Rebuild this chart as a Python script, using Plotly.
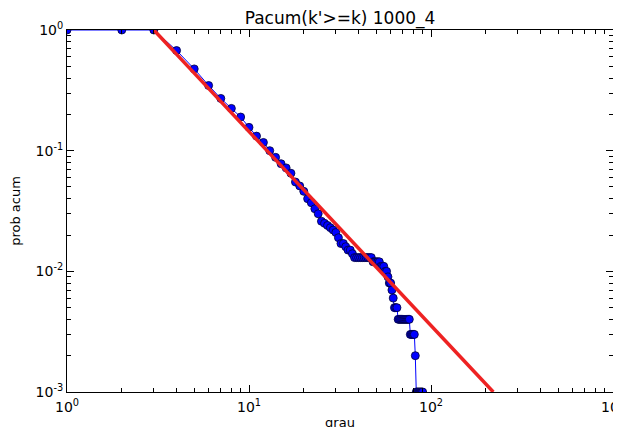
import plotly.graph_objects as go

degree = [1, 2, 3, 4, 5, 6, 7, 8, 9, 10,
          11, 12, 13, 14, 15, 16, 17, 18, 19, 20,
          21, 22, 23, 24, 25, 26, 27, 28, 29, 30,
          31, 32, 33, 34, 35, 36, 37, 38, 39, 40,
          41, 42, 43, 44, 45, 46, 47, 48, 49, 50,
          51, 52, 53, 54, 55, 56, 57, 58, 59, 60,
          61, 62, 63, 64, 65, 66, 67, 68, 69, 70,
          71, 72, 73, 74, 75, 76, 77, 78, 79, 80,
          81, 82, 83, 84, 85, 86, 87, 88, 89, 90]
prob_acum = [1.0, 1.0, 1.0, 0.676, 0.476, 0.347, 0.271, 0.224, 0.190, 0.156,
             0.132, 0.117, 0.100, 0.088, 0.078, 0.072, 0.065, 0.055, 0.051, 0.046,
             0.040, 0.037, 0.033, 0.030, 0.026, 0.025, 0.024, 0.023, 0.022, 0.021,
             0.019, 0.017, 0.017, 0.016, 0.015, 0.015, 0.014, 0.013, 0.013, 0.013,
             0.013, 0.013, 0.013, 0.013, 0.013, 0.013, 0.013, 0.012, 0.012, 0.012,
             0.012, 0.012, 0.011, 0.011, 0.011, 0.010, 0.010, 0.009, 0.008, 0.008,
             0.007, 0.006, 0.005, 0.005, 0.005, 0.004, 0.004, 0.004, 0.004, 0.004,
             0.004, 0.004, 0.004, 0.004, 0.004, 0.004, 0.003, 0.003, 0.003, 0.003,
             0.003, 0.002, 0.001, 0.001, 0.001, 0.001, 0.001, 0.001, 0.001, 0.001]

# Power-law fit line endpoints
fit_k = [3.0, 220.0]
fit_p = [1.0, 0.001]

x_ticks = [1, 10, 100, 1000]
x_labels = ["10<sup>0</sup>", "10<sup>1</sup>", "10<sup>2</sup>", "10<sup>3</sup>"]
y_ticks = [0.001, 0.01, 0.1, 1]
y_labels = ["10<sup>-3</sup>", "10<sup>-2</sup>", "10<sup>-1</sup>", "10<sup>0</sup>"]
x_minor = [m * 10 ** d for d in range(0, 3) for m in range(2, 10)]
y_minor = [m * 10.0 ** d for d in range(-3, 0) for m in range(2, 10)]

fig = go.Figure()
fig.add_trace(go.Scatter(
    x=degree, y=prob_acum, mode="lines+markers",
    line=dict(color="#0000ff", width=1),
    marker=dict(color="#0000ff", size=8, line=dict(color="#000033", width=0.8)),
    showlegend=False,
))
fig.add_trace(go.Scatter(
    x=fit_k, y=fit_p, mode="lines",
    line=dict(color="#ee2222", width=3.5),
    showlegend=False,
))

axis_common = dict(
    showgrid=False, zeroline=False,
    showline=True, linecolor="black", linewidth=1, mirror="allticks",
    ticks="inside", ticklen=7, tickwidth=1, tickcolor="black",
    tickfont=dict(family="DejaVu Sans", size=14, color="black"),
    automargin=False,
)

fig.update_xaxes(type="log", range=[0, 3], tickmode="array", tickvals=x_ticks, ticktext=x_labels,
                 ticklabelstandoff=2,
                 minor=dict(tickmode="array", tickvals=x_minor, ticks="inside", ticklen=4,
                            tickwidth=1, tickcolor="black", showgrid=False),
                 title=dict(text="grau", font=dict(family="DejaVu Sans", size=13, color="black"), standoff=4),
                 **axis_common)
fig.update_yaxes(type="log", range=[-3, 0], tickmode="array", tickvals=y_ticks, ticktext=y_labels,
                 minor=dict(tickmode="array", tickvals=y_minor, ticks="inside", ticklen=4,
                            tickwidth=1, tickcolor="black", showgrid=False),
                 title=dict(text="prob acum", font=dict(family="DejaVu Sans", size=13, color="black"), standoff=12),
                 **axis_common)

fig.update_layout(
    width=621, height=427,
    margin=dict(l=59, r=16, t=22, b=43),
    paper_bgcolor="white", plot_bgcolor="white",
    title=dict(text="Pacum(k'>=k) 1000_4", x=0.5, xref="paper", xanchor="center",
               y=0.977, yref="container", yanchor="middle",
               font=dict(family="DejaVu Sans", size=17, color="black")),
)

fig.write_html("out.html")
